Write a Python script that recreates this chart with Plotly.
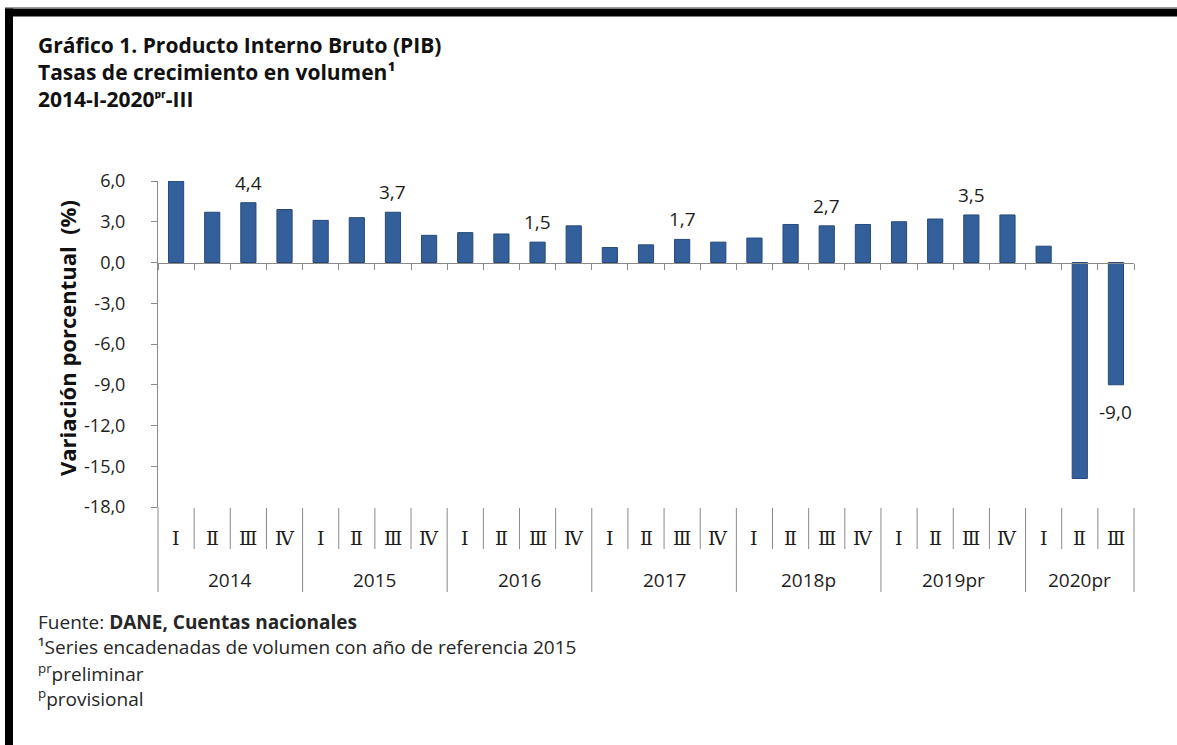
import plotly.graph_objects as go

# ---------------- data ----------------
years = ["2014", "2015", "2016", "2017", "2018p", "2019pr", "2020pr"]
quarter_names = ["Ⅰ", "Ⅱ", "Ⅲ", "Ⅳ"]
growth_2014 = [6.0, 3.7, 4.4, 3.9]
growth_2015 = [3.1, 3.3, 3.7, 2.0]
growth_2016 = [2.2, 2.1, 1.5, 2.7]
growth_2017 = [1.1, 1.3, 1.7, 1.5]
growth_2018 = [1.8, 2.8, 2.7, 2.8]
growth_2019 = [3.0, 3.2, 3.5, 3.5]
growth_2020 = [1.2, -15.9, -9.0]
labelled_quarter = "Ⅲ"          # quarter whose value is printed
y_tick_values = [6, 3, 0, -3, -6, -9, -12, -15, -18]
y_tick_text = ["6,0", "3,0", "0,0", "-3,0", "-6,0", "-9,0", "-12,0", "-15,0", "-18,0"]
y_range = [-18, 6]

title_lines = [
    "Gráfico 1. Producto Interno Bruto (PIB)",
    "Tasas de crecimiento en volumen¹",
    "2014-I-2020ᵖʳ-III",
]
y_title = "Variación porcentual  (%)"
notes = [
    "Fuente: <b>DANE, Cuentas nacionales</b>",
    "¹Series encadenadas de volumen con año de referencia 2015",
    "<sup>pr</sup>preliminar",
    "<sup>p</sup>provisional",
]

# ---------------- assemble ----------------
per_year = [growth_2014, growth_2015, growth_2016, growth_2017,
            growth_2018, growth_2019, growth_2020]
growth, period_year, period_q = [], [], []
for yr, vals in zip(years, per_year):
    for q, v in zip(quarter_names, vals):
        growth.append(v)
        period_year.append(yr)
        period_q.append(q)
n = len(growth)
idx = list(range(n))

# ---------------- layout geometry (pixels) ----------------
W, H = 1177, 745
L, R, T, B = 158, 1134, 181, 507


def fx(px):
    return (px - L) / (R - L)


def fy(py):
    return (B - py) / (B - T)


FONT = "Open Sans, Lato, sans-serif"
TXT = "#1e1e1e"
AXIS = "#8a8a8a"
BAR = "#33609a"
BAR_EDGE = "#26497a"

fig = go.Figure()
fig.add_trace(go.Bar(
    x=idx, y=growth, width=0.42,
    marker=dict(color=BAR, line=dict(color=BAR_EDGE, width=1)),
    hoverinfo="skip", showlegend=False,
))

annotations = []
# titles
for line, py in zip(title_lines, [45, 72, 99]):
    annotations.append(dict(
        text=f"<b>{line}</b>", x=fx(36), y=fy(py), xref="paper", yref="paper",
        xanchor="left", yanchor="middle", showarrow=False,
        font=dict(family=FONT + ", DejaVu Sans", size=21, color="#111111")))
# footnotes
for line, py in zip(notes, [622, 647, 673, 698]):
    annotations.append(dict(
        text=line, x=fx(36), y=fy(py), xref="paper", yref="paper",
        xanchor="left", yanchor="middle", showarrow=False,
        font=dict(family=FONT, size=19, color="#262626")))
# y axis title
annotations.append(dict(
    text=f"<b>{y_title}</b>", x=fx(67), y=fy(338), xref="paper", yref="paper",
    xanchor="center", yanchor="middle", textangle=-90, showarrow=False,
    font=dict(family=FONT, size=22, color="#111111")))
# data labels
for i, (v, q) in enumerate(zip(growth, period_q)):
    if q == labelled_quarter:
        annotations.append(dict(
            text=f"{v:.1f}".replace(".", ","), x=i, y=v, xref="x", yref="y",
            xanchor="center", yanchor="middle", showarrow=False,
            yshift=20 if v >= 0 else -27,
            font=dict(family=FONT, size=19, color=TXT)))
# quarter labels
for i, q in enumerate(period_q):
    annotations.append(dict(
        text=q, x=i, y=fy(538), xref="x", yref="paper",
        xanchor="center", yanchor="middle", showarrow=False,
        font=dict(family="DejaVu Serif, Liberation Serif, serif", size=19, color=TXT)))
# year labels
for yr in years:
    pos = [i for i, y in enumerate(period_year) if y == yr]
    annotations.append(dict(
        text=yr, x=sum(pos) / len(pos), y=fy(580), xref="x", yref="paper",
        xanchor="center", yanchor="middle", showarrow=False,
        font=dict(family=FONT, size=19, color=TXT)))

shapes = []
# separators in the category band
for b in range(n + 1):
    is_year_edge = b == 0 or b == n or period_year[b] != period_year[b - 1]
    bottom = 592 if is_year_edge else 549
    top = 507 if b == 0 else 508
    shapes.append(dict(type="line", xref="paper", yref="paper",
                       x0=b / n, x1=b / n, y0=fy(top), y1=fy(bottom),
                       line=dict(color=AXIS, width=1)))
# black frame
shapes.append(dict(type="rect", xref="paper", yref="paper",
                   x0=fx(5), x1=fx(W + 5), y0=fy(8.5), y1=fy(16.5),
                   fillcolor="black", line=dict(width=0)))
shapes.append(dict(type="rect", xref="paper", yref="paper",
                   x0=fx(5), x1=fx(13), y0=fy(8.5), y1=fy(H + 5),
                   fillcolor="black", line=dict(width=0)))
shapes.append(dict(type="line", xref="paper", yref="paper",
                   x0=fx(5), x1=fx(W + 5), y0=fy(7.5), y1=fy(7.5),
                   line=dict(color="#9a9a9a", width=1)))

zero_pos = (0 - y_range[0]) / (y_range[1] - y_range[0])

fig.update_layout(
    width=W, height=H,
    margin=dict(l=L, r=W - R, t=T, b=H - B, autoexpand=False),
    paper_bgcolor="white", plot_bgcolor="white",
    bargap=0.58,
    showlegend=False,
    xaxis=dict(range=[-0.5, n - 0.5], anchor="free", position=zero_pos,
               showgrid=False, zeroline=False, showline=True,
               linecolor=AXIS, linewidth=1,
               tickmode="array", tickvals=[b - 0.5 for b in range(n + 1)],
               ticks="outside", ticklen=6, tickcolor=AXIS,
               showticklabels=False, fixedrange=True),
    yaxis=dict(range=y_range, domain=[0, 1], showgrid=False, zeroline=False,
               showline=True, linecolor=AXIS, linewidth=1,
               tickmode="array", tickvals=y_tick_values, ticktext=y_tick_text,
               ticks="outside", ticklen=6, tickcolor=AXIS,
               ticklabelstandoff=22,
               tickfont=dict(family=FONT, size=18, color=TXT), fixedrange=True),
    annotations=annotations,
    shapes=shapes,
)

fig.write_html("out.html", config={"displayModeBar": False},
               post_script="document.body.style.margin='0';document.body.style.overflow='hidden';")
